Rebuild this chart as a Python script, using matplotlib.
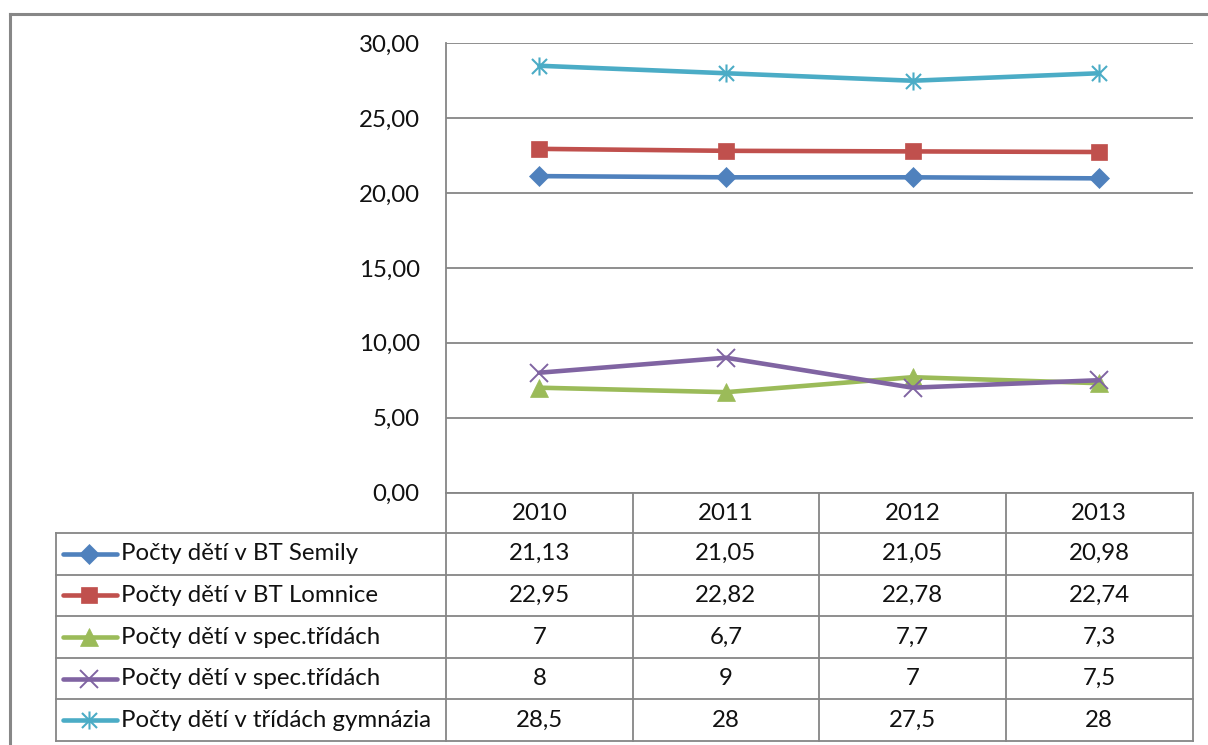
import matplotlib
matplotlib.use("Agg")
import matplotlib.pyplot as plt
from matplotlib.path import Path
from matplotlib.lines import Line2D

# ---------------- data ----------------
years = ["2010", "2011", "2012", "2013"]
series_names = [
    "Počty dětí v BT Semily",
    "Počty dětí v BT Lomnice",
    "Počty dětí v spec.třídách",
    "Počty dětí v spec.třídách",
    "Počty dětí v třídách gymnázia",
]
semily = [21.13, 21.05, 21.05, 20.98]
lomnice = [22.95, 22.82, 22.78, 22.74]
spec1 = [7, 6.7, 7.7, 7.3]
spec2 = [8, 9, 7, 7.5]
gymnazia = [28.5, 28, 27.5, 28]
y_ticks = [0, 5, 10, 15, 20, 25, 30]

series_values = [semily, lomnice, spec1, spec2, gymnazia]

# ---------------- style ----------------
W, H = 1208, 745
FONT = "Lato"
FS = 17.3
GRID = "#868686"
TXT = "#111111"

asterisk = Path(
    [(-1, -1), (1, 1), (-1, 1), (1, -1), (0, -1.2), (0, 1.2)],
    [Path.MOVETO, Path.LINETO, Path.MOVETO, Path.LINETO, Path.MOVETO, Path.LINETO],
)
styles = [
    dict(color="#4F81BD", marker="D", ms=10, mew=0.5, mfc="#4F81BD", mec="#4F81BD"),
    dict(color="#C0504D", marker="s", ms=12, mew=0.5, mfc="#C0504D", mec="#C0504D"),
    dict(color="#9BBB59", marker="^", ms=13, mew=0.5, mfc="#9BBB59", mec="#9BBB59"),
    dict(color="#8064A2", marker="x", ms=12.5, mew=1.4, mfc="#8064A2", mec="#8064A2"),
    dict(color="#4BACC6", marker=asterisk, ms=13, mew=1.5, mfc="#4BACC6", mec="#4BACC6"),
]


def fx(x):
    return x / W


def fy(y):
    return 1 - y / H


fig = plt.figure(figsize=(W / 100, H / 100), dpi=100)
fig.patch.set_facecolor("white")

# plot area
L, R, T, B = 446, 1192.5, 43.3, 492.5
ax = fig.add_axes([fx(L), fy(B), fx(R) - fx(L), fy(T) - fy(B)])
ax.set_xlim(-0.5, len(years) - 0.5)
ax.set_ylim(0, 30)
ax.set_yticks(y_ticks)
ax.set_yticklabels([f"{v:.2f}".replace(".", ",") for v in y_ticks],
                   fontfamily=FONT, fontsize=FS, color=TXT)
ax.tick_params(axis="y", length=0, pad=19)
ax.set_xticks([])
for s in ["top", "right", "bottom"]:
    ax.spines[s].set_visible(False)
ax.spines["left"].set_color(GRID)
ax.spines["left"].set_linewidth(1.3)
ax.yaxis.grid(True, color=GRID, linewidth=1.3)
ax.set_axisbelow(True)

xs = list(range(len(years)))
for vals, st in zip(series_values, styles):
    ax.plot(xs, vals, color=st["color"], linewidth=3.3, marker=st["marker"],
            markersize=st["ms"], markeredgewidth=st["mew"],
            markerfacecolor=st["mfc"], markeredgecolor=st["mec"],
            solid_capstyle="round", clip_on=False, zorder=3)

# ---------------- data table ----------------
TL = 55.5
header_bottom = 533
row_h = (741 - header_bottom) / len(series_names)
cw = (R - L) / len(years)


def hline(x0, x1, y, lw=1.3):
    fig.add_artist(Line2D([fx(x0), fx(x1)], [fy(y), fy(y)], color=GRID, linewidth=lw))


def vline(x, y0, y1, lw=1.3):
    fig.add_artist(Line2D([fx(x), fx(x)], [fy(y0), fy(y1)], color=GRID, linewidth=lw))


hline(L, R, B)
for i in range(len(series_names) + 1):
    hline(TL, R, header_bottom + i * row_h)
vline(TL, header_bottom, 741)
for j in range(len(years) + 1):
    vline(L + j * cw, B, 741)

for j, yr in enumerate(years):
    fig.text(fx(L + (j + 0.5) * cw), fy((B + header_bottom) / 2 + 1), yr,
             ha="center", va="center", fontfamily=FONT, fontsize=FS, color=TXT)


def fmt(v):
    s = f"{v}"
    if s.endswith(".0"):
        s = s[:-2]
    return s.replace(".", ",")


for i, (name, vals, st) in enumerate(zip(series_names, series_values, styles)):
    yc = header_bottom + (i + 0.5) * row_h
    fig.add_artist(Line2D([fx(63), fx(117)], [fy(yc), fy(yc)], color=st["color"],
                          linewidth=3.3, solid_capstyle="round"))
    fig.add_artist(Line2D([fx(89)], [fy(yc)], marker=st["marker"],
                          markersize=st["ms"], markeredgewidth=st["mew"],
                          markerfacecolor=st["mfc"], markeredgecolor=st["mec"],
                          linestyle="none"))
    fig.text(fx(121), fy(yc), name, ha="left", va="center",
             fontfamily=FONT, fontsize=FS, color=TXT)
    for j, v in enumerate(vals):
        fig.text(fx(L + (j + 0.5) * cw), fy(yc), fmt(v), ha="center", va="center",
                 fontfamily=FONT, fontsize=FS, color=TXT)

# outer chart border (extends beyond the image)
fig.add_artist(Line2D([fx(10), fx(10)], [fy(14), fy(760)], color="#878787", linewidth=2.2))
fig.add_artist(Line2D([fx(10), fx(1230)], [fy(14), fy(14)], color="#878787", linewidth=2.2))

fig.savefig("out.png", dpi=100, facecolor="white")
